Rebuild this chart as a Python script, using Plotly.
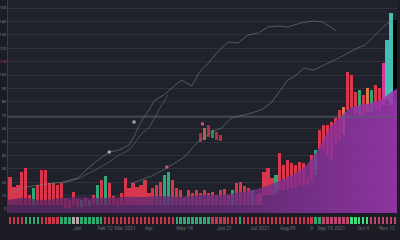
import plotly.graph_objects as go

# ---------------- data ----------------
N = 98
idx = list(range(N))

candle_high = [23.9, 16.4, 17.9, 27.6, 30.6, 10.4, 15.7, 17.9, 29.1, 29.1,
               19.4, 19.4, 17.9, 19.4, 8.2, 6.7, 12.7, 7.5, 6.7, 8.2,
               6.7, 10.4, 17.9, 21.6, 24.6, 19.4, 9.7, 7.5, 11.9, 23.1,
               15.7, 19.4, 16.4, 17.9, 21.6, 11.9, 15.7, 17.9, 20.1, 25.4,
               27.6, 21.6, 15.7, 14.2, 9.0, 14.2, 11.9, 14.2, 11.9, 14.2,
               11.9, 12.7, 10.4, 14.2, 14.9, 10.4, 14.2, 19.4, 20.1, 17.2,
               15.7, 14.2, 10.4, 11.9, 27.6, 30.6, 23.1, 25.4, 41.8, 32.8,
               36.6, 34.3, 32.8, 35.1, 34.3, 23.1, 40.3, 44.0, 59.0, 62.7,
               62.7, 64.9, 67.9, 73.9, 76.1, 102.2, 100.0, 87.3, 88.8, 85.1,
               90.3, 88.8, 92.5, 90.3, 109.0, 126.1, 146.3, 141.0]
candle_low = [3.0] * 14 + [0.7, 0.7, 3.0, 1.5, 1.5, 2.2, 2.2] + [3.0] * 6 + [2.2] + [3.0] * 36 + \
             [10.4, 10.4, 10.4, 11.9, 14.2, 14.2, 14.2, 15.7, 15.7, 17.9, 17.9, 17.9, 21.6, 25.4,
              44.0, 44.0, 40.3, 36.6, 47.8, 51.5, 55.2, 73.9, 75.4, 70.1, 70.1, 70.1,
              72.4, 72.4, 73.9, 73.9, 77.6, 81.3, 77.6, 81.3]
candle_dir = list("rrrrrrgrrrrrrrrrrrgrgrgrgrrrrrrrrrrrrrrgg"
                  "rrrrrrrrrrrrrrrgrrrrgrrrrrgrrrrrrrrrgrrrrrro"
                  "rrrgrogrrptt")

spike_idx = [48, 49, 50, 51, 52, 53]
spike_high = [56.7, 60.4, 62.7, 59.0, 57.5, 55.2]
spike_low = [50.0, 51.5, 53.7, 53.0, 51.5, 50.7]
spike_dir = list("rorgrr")

area_x = [-0.5, 3.25, 8.25, 13.25, 18.25, 23.25, 28.25, 33.25, 38.25, 43.25, 48.25,
          53.25, 58.25, 63.25, 68.25, 73.25, 75.75, 78.25, 80.75, 83.25, 85.75,
          88.25, 90.75, 93.25, 95.75, 97.5]
area_y = [6.7, 8.2, 6.7, 8.2, 9.0, 8.2, 9.0, 9.0, 9.7, 9.0, 10.4,
          10.4, 12.7, 15.7, 21.6, 29.1, 36.6, 47.8, 61.2, 68.7, 75.4,
          77.6, 79.1, 81.3, 86.6, 90.0]

ma1_x = [0, 4, 9.5, 13.25, 17, 21.5, 25, 27.5, 30, 31.5, 32.5, 33.75, 35, 36.5, 38.75,
         40.75, 43.25, 45.75, 47.75, 50, 52.75, 55, 57.5, 60, 62.5, 65, 67.5, 70,
         73.25, 76.25, 78.75, 80.75, 82.25]
ma1_y = [11.9, 16.4, 18.7, 20.1, 23.1, 35.1, 42.5, 44.0, 47.8, 55.2, 62.7, 67.9, 73.9,
         81.3, 85.1, 90.3, 96.3, 91.8, 102.2, 109.0, 118.7, 124.6, 123.9, 129.9, 131.3,
         135.8, 136.6, 135.8, 138.8, 140.3, 139.6, 135.8, 132.8]

ma2_x = [13.25, 17, 21.5, 25, 27.5, 30, 31.5, 33.25, 35, 36.5, 38.25, 39.75]
ma2_y = [19.4, 22.4, 29.1, 35.1, 40.3, 44.0, 49.3, 56.7, 60.4, 68.7, 77.6, 85.1]

ma3_x = [30.75, 35.75, 39.5, 44, 47, 50.75, 53.25, 55.75, 60.75, 63.25, 65.75, 68.25,
         70, 71.5, 74, 76.5, 78.25, 80.75, 83.25, 85.75, 87.5, 89.5, 92, 94.5, 96.5]
ma3_y = [19.4, 24.6, 30.6, 38.8, 49.3, 57.5, 60.4, 67.9, 71.6, 73.9, 79.1, 88.8,
         96.3, 98.5, 105.2, 103.7, 106.0, 109.7, 113.4, 117.2, 120.1, 122.4, 129.9, 137.3, 141.0]

signal_x = [31.25, 39.5, 25, 48.5]
signal_y = [64.9, 31.3, 42.5, 63.5]
signal_kind = ["w", "r", "w", "r"]

strip_state = list("rrrr" "gggg" "rrrrr" "ggg" "ww" "gggggg" + "r" * 18 + "g" * 9 +
                   "r" * 7 + "g" + "r" * 18 + "gg" + "p" * 7 + "G" * 5 + "p" * 7)

tick_idx = [17, 24, 29, 35, 44, 54, 63, 70, 76, 81, 89, 95]
tick_text = ["Jan", "Feb 12", "Mar 2021", "Apr", "May 14", "Jun 21", "Jul 2021",
             "Aug 09", "9", "Sep 15 2021", "Oct 4", "Nov 12"]

price_ticks = list(range(0, 151, 10))
ref_level = 68.7
last_price_tick = 110

# ---------------- style ----------------
cmap = {"r": "#e8384f", "g": "#2fb57f", "o": "#ef7f4c", "p": "#de3f9c", "t": "#48ccc0"}
smap = {"r": "#c9364c", "g": "#2fa872", "w": "#b9a3ab", "p": "#b8466e", "G": "#3fdc7a"}
vgrid_at = [17, 36.5, 47.75, 81.25]

price_text = [f"<span style='color:#d8404f'>{v}</span>" if v == last_price_tick else str(v)
              for v in price_ticks]

fig = go.Figure()

fig.add_trace(go.Bar(
    x=idx, y=[h - l for h, l in zip(candle_high, candle_low)], base=candle_low,
    marker=dict(color=[cmap[c] for c in candle_dir], line=dict(width=0)),
    width=0.8, opacity=0.92, xaxis="x", yaxis="y", hoverinfo="skip"))

fig.add_trace(go.Bar(
    x=spike_idx, y=[h - l for h, l in zip(spike_high, spike_low)], base=spike_low,
    marker=dict(color=[cmap[c] for c in spike_dir], line=dict(width=0)),
    width=0.8, opacity=0.7, xaxis="x", yaxis="y", hoverinfo="skip"))

fig.add_trace(go.Bar(
    x=idx, y=[1] * N, base=0,
    marker=dict(color=[smap[c] for c in strip_state], line=dict(width=0)),
    width=0.6, xaxis="x2", yaxis="y2", hoverinfo="skip"))

# purple area
fig.add_trace(go.Scatter(x=area_x, y=[-3] * len(area_x), mode="lines",
                         line=dict(width=0), xaxis="x", yaxis="y", hoverinfo="skip"))
fig.add_trace(go.Scatter(
    x=area_x, y=area_y, mode="lines", line=dict(width=0, shape="spline"),
    fill="tonexty",
    fillgradient=dict(type="horizontal",
                      colorscale=[[0, "rgba(88,38,98,0.78)"], [0.55, "rgba(106,44,124,0.8)"],
                                  [1, "rgba(156,54,176,0.88)"]]),
    xaxis="x", yaxis="y", hoverinfo="skip"))

for xs, ys, col in [(ma1_x, ma1_y, "rgba(120,140,122,0.55)"),
                    (ma2_x, ma2_y, "rgba(120,140,122,0.45)"),
                    (ma3_x, ma3_y, "rgba(115,138,120,0.55)")]:
    fig.add_trace(go.Scatter(x=xs, y=ys, mode="lines", line=dict(color=col, width=1),
                             xaxis="x", yaxis="y", hoverinfo="skip"))

fig.add_trace(go.Scatter(
    x=signal_x, y=signal_y, mode="markers",
    marker=dict(size=3, symbol="square",
                color=["#a9acb4" if k == "w" else "#d8506a" for k in signal_kind]),
    xaxis="x", yaxis="y", hoverinfo="skip"))

shapes = [dict(type="line", xref="paper", x0=0, x1=1, yref="y", y0=ref_level, y1=ref_level,
               line=dict(color="#5e6170", width=1), layer="above")]
for v in vgrid_at:
    shapes.append(dict(type="line", xref="x", x0=v, x1=v, yref="paper", y0=0.1125, y1=1,
                       line=dict(color="#30333f", width=1), layer="below"))

fig.update_layout(
    width=400, height=240,
    margin=dict(l=8, r=3, t=0, b=0),
    paper_bgcolor="#1c1d24", plot_bgcolor="rgba(0,0,0,0)",
    showlegend=False, barmode="overlay", bargap=0,
    font=dict(family="Roboto", color="#7b7f8c"),
    shapes=shapes + [dict(type="rect", xref="paper", yref="paper", x0=0, x1=1,
                          y0=0.1125, y1=1, fillcolor="#20222b", line=dict(width=0),
                          layer="below")],
    xaxis=dict(domain=[0, 1], range=[-0.5, N - 0.5], anchor="y", showgrid=False,
               showticklabels=False, zeroline=False, showline=False, automargin=False),
    yaxis=dict(domain=[0.1125, 1], range=[-3, 156], tickmode="array",
               tickvals=price_ticks, ticktext=price_text, automargin=False,
               gridcolor="#2f323d", gridwidth=1, zeroline=False, showline=True,
               linecolor="#3a3d49", ticks="", ticklabelstandoff=0,
               tickfont=dict(size=4, color="#7b7f8c")),
    xaxis2=dict(domain=[0, 1], range=[-0.5, N - 0.5], anchor="y2", matches="x",
                showgrid=False, zeroline=False, showline=False, tickmode="array",
                tickvals=tick_idx, ticktext=tick_text, ticks="", tickangle=0,
                automargin=False, tickfont=dict(size=5, color="#666a78")),
    yaxis2=dict(domain=[0.067, 0.096], range=[0, 1], showgrid=False, zeroline=False,
                showticklabels=False, showline=False, automargin=False),
)

fig.write_html("out.html")
